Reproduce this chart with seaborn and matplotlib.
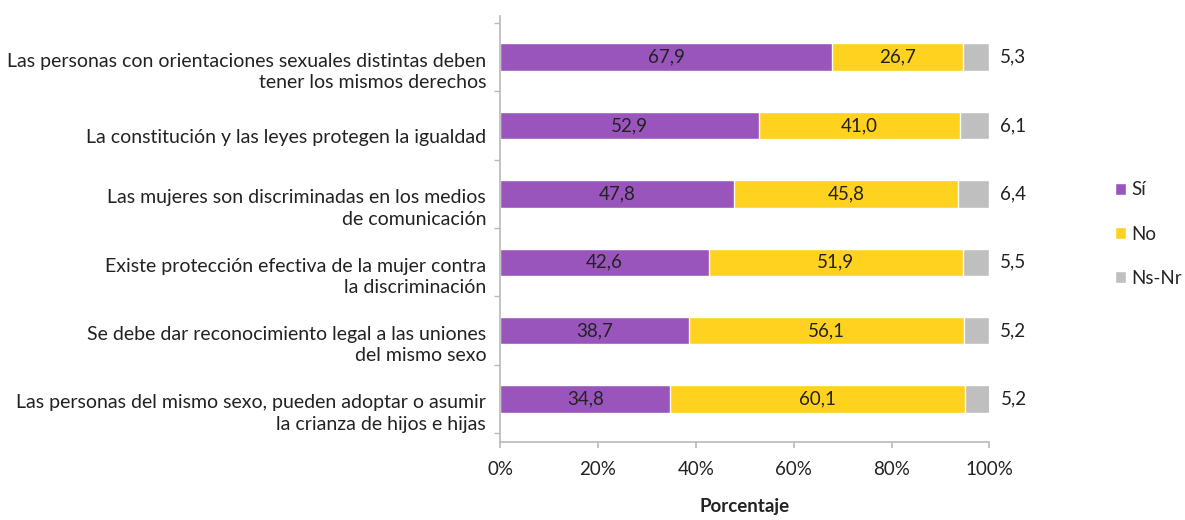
import numpy as np
import pandas as pd
import matplotlib.pyplot as plt
import matplotlib.transforms as mtransforms
import seaborn as sns
from matplotlib.patches import Patch

# Datos
categorias = [
    "Las personas con orientaciones sexuales distintas deben\ntener los mismos derechos",
    "La constitución y las leyes protegen la igualdad",
    "Las mujeres son discriminadas en los medios\nde comunicación",
    "Existe protección efectiva de la mujer contra\nla discriminación",
    "Se debe dar reconocimiento legal a las uniones\ndel mismo sexo",
    "Las personas del mismo sexo, pueden adoptar o asumir\nla crianza de hijos e hijas",
]
si = [67.9, 52.9, 47.8, 42.6, 38.7, 34.8]
no = [26.7, 41.0, 45.8, 51.9, 56.1, 60.1]
nsnr = [5.3, 6.1, 6.4, 5.5, 5.2, 5.2]
series = ["Sí", "No", "Ns-Nr"]
colores = ["#9a55bd", "#ffd21f", "#bfbfbf"]

sns.set_theme(style="white")
plt.rcParams['font.family'] = ['Lato', 'DejaVu Sans']
fs = 13.5

df = pd.DataFrame({'cat': categorias, 'si': si, 'no': no, 'nsnr': nsnr})
df['si_no'] = df['si'] + df['no']
df['total'] = df['si_no'] + df['nsnr']

fig = plt.figure(figsize=(11.85, 5.2), dpi=100)
ax = fig.add_axes([0.422, 0.15, 0.413, 0.819])

# barras apiladas: se dibuja de la más larga a la más corta
for col, color in zip(['total', 'si_no', 'si'], colores[::-1]):
    sns.barplot(data=df, x=col, y='cat', color=color, width=0.4,
                orient='h', ax=ax, saturation=1)

ax.set_xlim(0, 100)
ax.set_ylim(5.63, -0.6)
ax.set_xticks(np.arange(0, 101, 20))
ax.set_xticklabels([f"{v}%" for v in range(0, 101, 20)], fontsize=fs, color='#222222')
ax.tick_params(axis='x', length=4, color='#bbbbbb', pad=10, bottom=True)
ax.set_yticks(range(len(categorias)))
ax.set_yticklabels(categorias, fontsize=14, color='#222222', linespacing=1.3)
ax.set_yticks(np.arange(-0.5, 5.6, 1), minor=True)
ax.tick_params(axis='y', which='major', length=0, pad=10)
ax.tick_params(axis='y', which='minor', length=4, color='#bbbbbb', left=True)
# las etiquetas de categoría quedan algo por debajo del centro de la barra
offset = mtransforms.ScaledTranslation(0, -0.11, fig.dpi_scale_trans)
for lab in ax.get_yticklabels():
    lab.set_transform(lab.get_transform() + offset)
ax.set_ylabel('')
ax.set_xlabel('Porcentaje', fontsize=fs, fontweight='bold', labelpad=14, color='#222222')

for s in ['top', 'right']:
    ax.spines[s].set_visible(False)
for s in ['left', 'bottom']:
    ax.spines[s].set_color('#bbbbbb')

# etiquetas de datos
for i in range(len(categorias)):
    ax.text(si[i] / 2, i, f"{si[i]:.1f}".replace('.', ','), ha='center', va='center',
            fontsize=fs, color='#222222')
    ax.text(si[i] + no[i] / 2, i, f"{no[i]:.1f}".replace('.', ','), ha='center', va='center',
            fontsize=fs, color='#222222')
    ax.text(df['total'][i] + 2.2, i, f"{nsnr[i]:.1f}".replace('.', ','), ha='left', va='center',
            fontsize=fs, color='#222222')

handles = [Patch(facecolor=c, label=l) for c, l in zip(colores, series)]
fig.legend(handles=handles, loc='center left', bbox_to_anchor=(0.941, 0.55),
           frameon=False, fontsize=fs, handlelength=0.6, handleheight=0.6,
           handletextpad=0.25, labelspacing=1.45, borderaxespad=0, borderpad=0)

plt.savefig('out.png', dpi=100)
